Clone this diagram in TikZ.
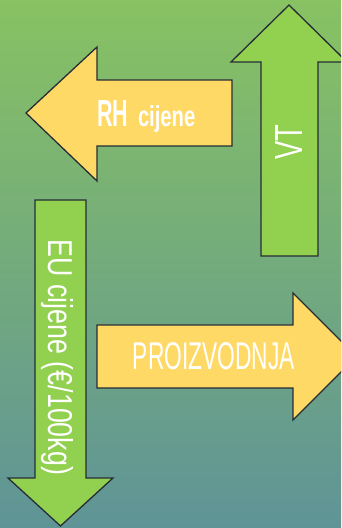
\documentclass[tikz,border=0pt]{standalone}
\usepackage{fontspec}
\setmainfont{Liberation Sans}
\usepackage{graphicx}
\definecolor{bgtop}{RGB}{136,194,98}
\definecolor{bgbot}{RGB}{95,148,151}
\definecolor{ayellow}{RGB}{255,217,102}
\definecolor{agreen}{RGB}{146,208,80}
\definecolor{edge}{RGB}{38,45,54}
\tikzset{
  arrowshape/.style={draw=edge, line width=1.3pt, line join=miter},
  lbl/.style={text=white, inner sep=0pt, outer sep=0pt},
}
\begin{document}
\begin{tikzpicture}[x=1pt,y=1pt]
\useasboundingbox (0,0) rectangle (341,528);
\clip (0,0) rectangle (341,528);
\shade[top color=bgtop, bottom color=bgbot] (0,0) rectangle (341,528);
% left arrow (RH cijene)
\path[arrowshape, fill=ayellow] (26,415) -- (97,481) -- (97,448) -- (232,448) -- (232,382) -- (97,382) -- (97,347) -- cycle;
% up arrow (VT)
\path[arrowshape, fill=agreen] (289,523) -- (347,466) -- (318,466) -- (318,272) -- (261,272) -- (261,466) -- (231,466) -- cycle;
% down arrow (EU cijene)
\path[arrowshape, fill=agreen] (35,328) -- (86,328) -- (86,50) -- (113,50) -- (60.5,2) -- (8,50) -- (35,50) -- cycle;
% right arrow (PROIZVODNJA)
\path[arrowshape, fill=ayellow] (97,203) -- (293,203) -- (293,235) -- (356.5,171.5) -- (293,108) -- (293,140) -- (97,140) -- cycle;
% labels
\node[lbl, anchor=base west] (rh) at (97,401) {\scalebox{0.57}[1]{\fontsize{37.7}{40}\selectfont\bfseries RH}};
\node[lbl, anchor=base west] (cij) at (138,401) {\scalebox{0.70}[1]{\fontsize{28.9}{30}\selectfont\bfseries cijene}};
\node[lbl, anchor=base west, rotate=90] (vt) at (302,368) {\resizebox{35pt}{27pt}{VT}};
\node[lbl, anchor=base west, rotate=-90] (eu) at (48,288) {\resizebox{235pt}{25pt}{EU cijene (€/100kg)}};
\node[lbl] (pro) at (214,171.5) {\resizebox{162pt}{27pt}{PROIZVODNJA}};
\end{tikzpicture}
\end{document}
